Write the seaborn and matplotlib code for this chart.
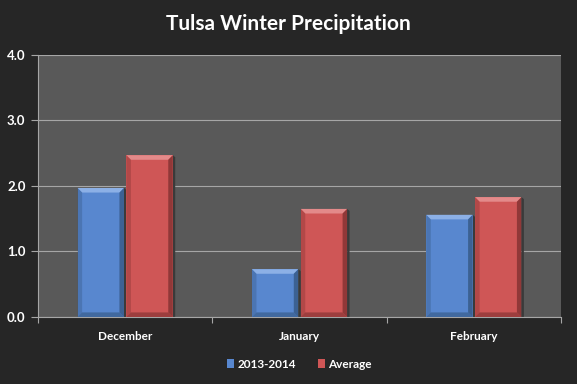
import matplotlib
matplotlib.use('Agg')
import matplotlib.pyplot as plt
import pandas as pd
import seaborn as sns
from matplotlib.patches import Polygon

# Data (inches)
months = ['December', 'January', 'February']
season_2013 = [1.97, 0.73, 1.56]
average = [2.47, 1.65, 1.83]
series_names = ['2013-2014', 'Average']

df = pd.DataFrame({
    'month': months * 2,
    'value': season_2013 + average,
    'series': [series_names[0]] * 3 + [series_names[1]] * 3,
})

sns.set_theme(style='dark')
plt.rcParams['font.family'] = ['Lato', 'DejaVu Sans']

bg = '#262626'
plot_bg = '#595959'
colors = {'2013-2014': '#5887cf', 'Average': '#cf5656'}
dark = {'2013-2014': '#33557f', 'Average': '#7d2f2f'}
light = {'2013-2014': '#8cb0e6', 'Average': '#e38a8a'}

fig = plt.figure(figsize=(5.77, 3.84), dpi=100, facecolor=bg)
ax = fig.add_axes([0.0659, 0.1745, 0.9064, 0.6823])
ax.set_facecolor(plot_bg)

sns.barplot(data=df, x='month', y='value', hue='series', order=months,
            hue_order=series_names, palette=colors, width=0.56, gap=0.05,
            saturation=1, ax=ax, legend=True, zorder=3, linewidth=0,
            edgecolor='none')

# bevel effect on each bar
bx, by = 0.026, 0.07
for container, name in zip(ax.containers, series_names):
    for p in container:
        x0, y0 = p.get_x(), p.get_y()
        w, h = p.get_width(), p.get_height()
        x1, y1 = x0 + w, y0 + h
        # shadow
        ax.add_patch(Polygon([(x1, y0), (x1 + 0.014, y0), (x1 + 0.014, y1 - 0.03), (x1, y1)],
                             closed=True, color='#3a3a3a', lw=0, zorder=2))
        top = [(x0, y1), (x1, y1), (x1 - bx, y1 - by), (x0 + bx, y1 - by)]
        left = [(x0, y0), (x0, y1), (x0 + bx, y1 - by), (x0 + bx, y0 + by)]
        right = [(x1, y0), (x1, y1), (x1 - bx, y1 - by), (x1 - bx, y0 + by)]
        bottom = [(x0, y0), (x1, y0), (x1 - bx, y0 + by), (x0 + bx, y0 + by)]
        ax.add_patch(Polygon(top, closed=True, color=light[name], lw=0, zorder=4))
        ax.add_patch(Polygon(left, closed=True, color=dark[name], lw=0, alpha=0.35, zorder=4))
        ax.add_patch(Polygon(right, closed=True, color=dark[name], lw=0, alpha=0.75, zorder=4))
        ax.add_patch(Polygon(bottom, closed=True, color=dark[name], lw=0, alpha=0.6, zorder=4))

ax.set_ylim(0, 4.0)
ax.set_xlim(-0.5, 2.5)
ax.set_yticks([0, 1, 2, 3, 4])
ax.set_yticklabels(['0.0', '1.0', '2.0', '3.0', '4.0'])
ax.yaxis.grid(True, color='#a6a6a6', lw=0.8, zorder=0)
ax.xaxis.grid(False)
ax.set_axisbelow(True)
ax.set_xlabel('')
ax.set_ylabel('')

for s in ['top', 'right']:
    ax.spines[s].set_visible(False)
for s in ['left', 'bottom']:
    ax.spines[s].set_visible(True)
    ax.spines[s].set_color('#a6a6a6')
    ax.spines[s].set_linewidth(0.8)

ax.tick_params(axis='y', left=True, length=5, width=0.8, color='#a6a6a6',
               labelcolor='white', labelsize=9.5, pad=4)
ax.tick_params(axis='x', bottom=False, labelcolor='white', labelsize=8.5, pad=4)
for lbl in ax.get_yticklabels() + ax.get_xticklabels():
    lbl.set_fontweight('bold')
# tick marks at category boundaries
ax.set_xticks([-0.5, 0.5, 1.5, 2.5], minor=True)
ax.tick_params(axis='x', which='minor', bottom=True, length=4, width=0.8, color='#a6a6a6')

leg = ax.legend(loc='center', bbox_to_anchor=(0.5, -0.18), ncol=2, frameon=False,
                handlelength=0.6, handleheight=0.9, handletextpad=0.3, columnspacing=1.8,
                fontsize=8.5)
for t in leg.get_texts():
    t.set_color('white')
    t.set_fontweight('bold')
for h in leg.legend_handles:
    h.set_edgecolor('none')
    h.set_linewidth(0)

fig.text(0.5, 0.937, 'Tulsa Winter Precipitation', color='white', fontsize=15,
         fontweight='bold', ha='center', va='center')

fig.savefig('out.png', dpi=100, facecolor=bg)
